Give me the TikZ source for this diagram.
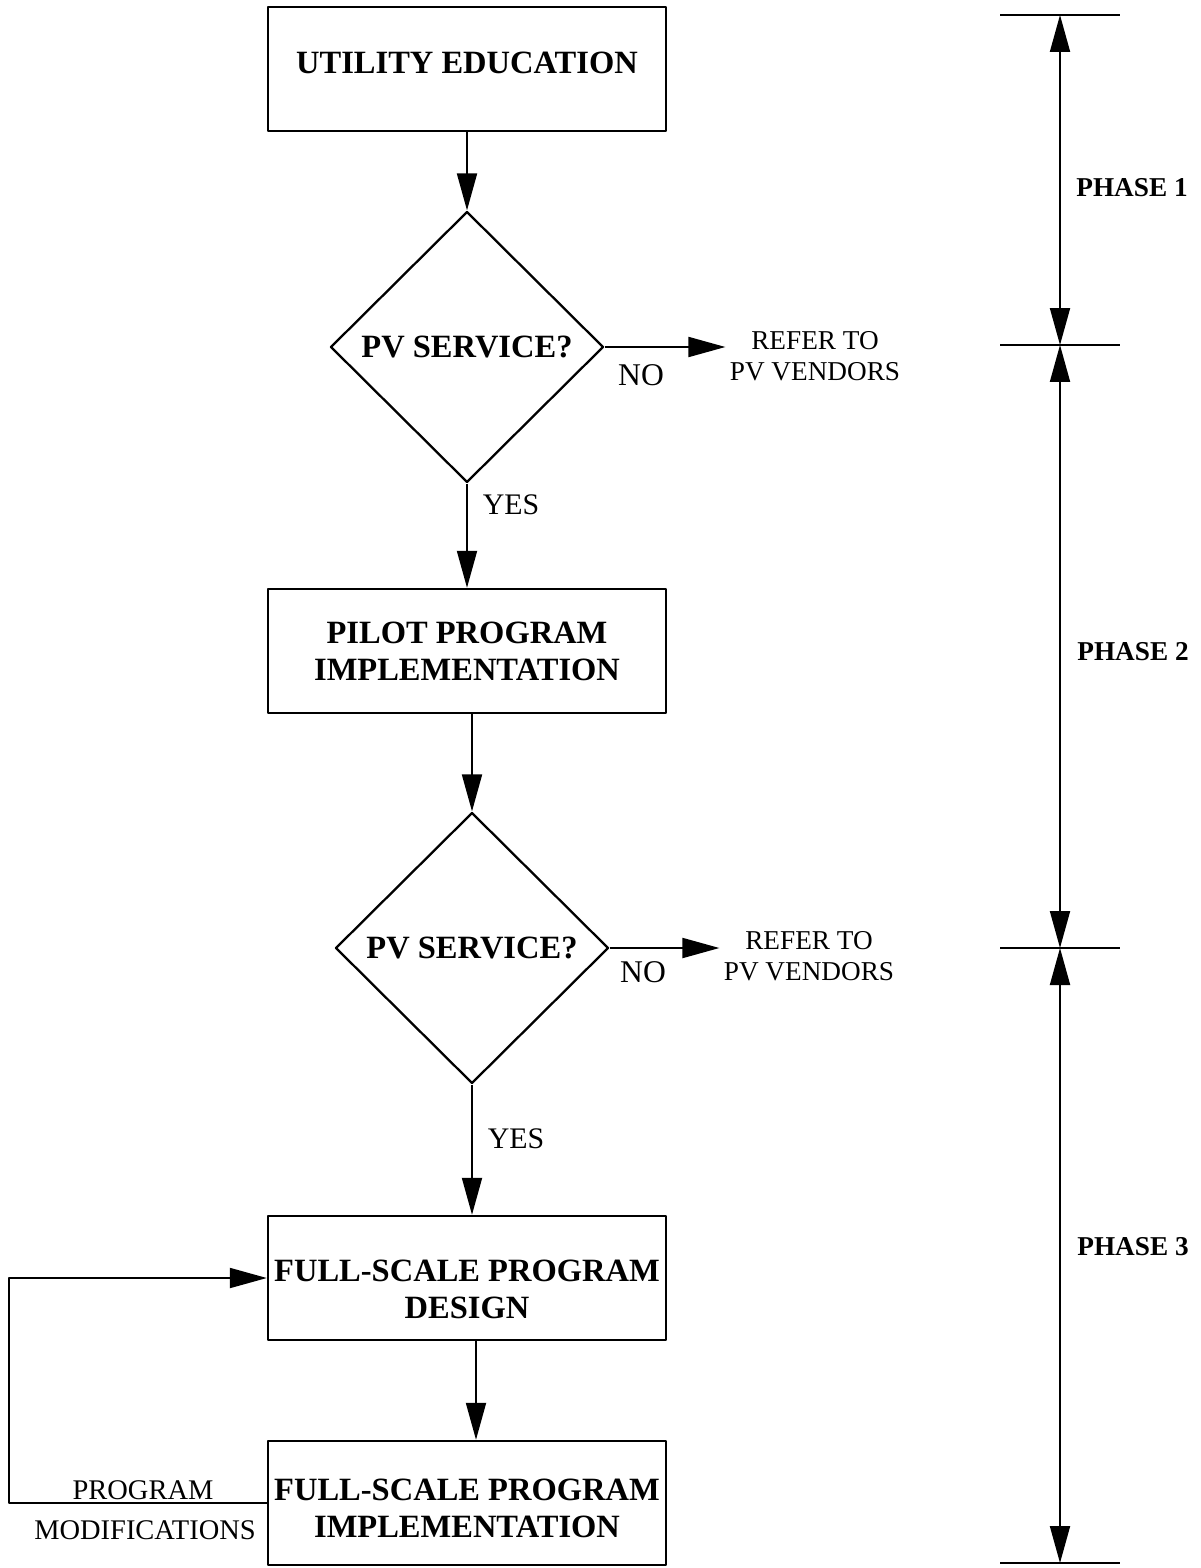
\documentclass[tikz,border=0pt]{standalone}
\usepackage{fontspec}
\setmainfont{Liberation Serif}
\usetikzlibrary{shapes.geometric,arrows.meta}
\begin{document}
\begin{tikzpicture}[x=0.02cm,y=-0.02cm, line join=round, line width=1.1pt,
	>={Triangle[length=0.74cm,width=0.4cm]},
	box/.style={draw, line width=1.4pt, minimum width=7.96cm, minimum height=2.48cm, inner xsep=1pt, align=center, font=\fontsize{18.5}{21}\selectfont\bfseries},
	decision/.style={draw, diamond, line width=1.3pt, minimum width=5.46cm, minimum height=5.42cm, inner sep=0pt, font=\fontsize{18.5}{21}\selectfont\bfseries},
	note/.style={align=center, inner sep=2pt, font=\fontsize{15.5}{17.6}\selectfont},
	answer/.style={inner sep=0pt, font=\fontsize{18}{20}\selectfont},
	phase/.style={inner sep=0pt, font=\fontsize{15.5}{18}\selectfont\bfseries}]
\useasboundingbox (0,0) rectangle (1200,1568);
% flow chart
\node[box, text depth=7pt] (edu) at (467,69) {UTILITY EDUCATION};
\node[decision] (svcA) at (467,347) {PV SERVICE?};
\node[box] (pilot) at (467,651) {PILOT PROGRAM\\IMPLEMENTATION};
\node[decision] (svcB) at (472,948) {PV SERVICE?};
\node[box, text height=46pt] (design) at (467,1278) {FULL-SCALE PROGRAM\\DESIGN};
\node[box, text height=39pt] (impl) at (467,1503) {FULL-SCALE PROGRAM\\IMPLEMENTATION};
\node[note] (vendA) at (815,356) {REFER TO\\PV VENDORS};
\node[note] (vendB) at (809,956) {REFER TO\\PV VENDORS};
\node[answer] (noA) at (641,375) {NO};
\node[answer] (noB) at (643,972) {NO};
\node[answer, font=\fontsize{17}{20}\selectfont] (yesA) at (511,505) {YES};
\node[answer, font=\fontsize{17}{20}\selectfont] (yesB) at (516,1139) {YES};
\node[note, font=\fontsize{16.2}{19}\selectfont] (modA) at (143,1490) {PROGRAM};
\node[note, font=\fontsize{16.2}{19}\selectfont] (modB) at (145,1530) {MODIFICATIONS};
\draw[->] (edu) -- (svcA);
\draw[->] (svcA) -- (pilot);
\draw[->] (pilot.south -| svcB) -- (svcB);
\draw[->] (svcB) -- (design.north -| svcB);
\draw[->] (design.south -| 476,0) -- (impl.north -| 476,0);
\draw[->] (svcA.east) -- (svcA.east -| vendA.west);
\draw[->] (svcB.east) -- (svcB.east -| vendB.west);
\draw[->] (impl.west) -- ++(-258,0) |- (design.west);
% phases
\path
(1060,15) coordinate (p0)
(1060,345) coordinate (p1)
(1060,948) coordinate (p2)
(1060,1563) coordinate (p3)
;
\foreach \p in {p0,p1,p2,p3}
\draw[line width=1.3pt] ([xshift=-1.2cm]\p) -- ([xshift=1.2cm]\p);
\draw[<->] (p0) -- (p1);
\draw[<->] (p1) -- (p2);
\draw[<->] (p2) -- (p3);
\node[phase] (ph1) at (1132,188) {PHASE 1};
\node[phase] (ph2) at (1133,652) {PHASE 2};
\node[phase] (ph3) at (1133,1247) {PHASE 3};
\end{tikzpicture}
\end{document}
